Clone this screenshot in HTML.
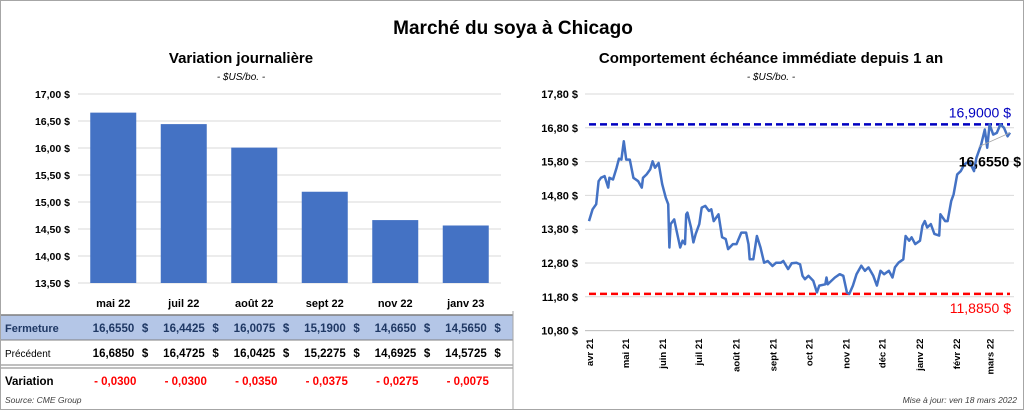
<!DOCTYPE html>
<html><head><meta charset="utf-8">
<style>
body{margin:0;background:#fff;}
#wrap{position:relative;width:1022px;height:408px;border:1px solid #a6a6a6;overflow:hidden;font-family:"Liberation Sans",sans-serif;}
svg text{font-family:"Liberation Sans",sans-serif;}
</style></head><body>
<div id="wrap">
<svg id="svg" width="1022" height="408">
<text x="512" y="33" text-anchor="middle" font-size="19" font-weight="bold" fill="#000">Marché du soya à Chicago</text>
<text x="240" y="62" text-anchor="middle" font-size="15" font-weight="bold">Variation journalière</text>
<text x="240" y="79" text-anchor="middle" font-size="10" font-style="italic">- $US/bo. -</text>
<text x="770" y="62" text-anchor="middle" font-size="15" font-weight="bold">Comportement échéance immédiate depuis 1 an</text>
<text x="770" y="79" text-anchor="middle" font-size="10" font-style="italic">- $US/bo. -</text>
<g id="left"></g><g id="right"></g><g id="table"></g>
<text x="4" y="402" font-size="8.5" font-style="italic" fill="#404040">Source: CME Group</text>
<text x="1016" y="402" text-anchor="end" font-size="8.5" font-style="italic" fill="#404040">Mise à jour: ven 18 mars 2022</text>
</svg></div>
<script>
const categories=["mai 22","juil 22","août 22","sept 22","nov 22","janv 23"];
const closeVals=[16.6550,16.4425,16.0075,15.1900,14.6650,14.5650];
const prevVals=[16.6850,16.4725,16.0425,15.2275,14.6925,14.5725];
const varVals=["- 0,0300","- 0,0300","- 0,0350","- 0,0375","- 0,0275","- 0,0075"];
const leftTicks=[17.0,16.5,16.0,15.5,15.0,14.5,14.0,13.5];
const days=[0,3,6,8,10,13,16,17,20,23,25,27,29,31,34,37,41,44,45,48,51,53,55,58,61,64,66,67,68,71,73,76,78,80,81,82,85,87,89,92,94,97,100,102,104,108,111,114,116,120,123,127,131,133,134,137,140,143,146,149,153,156,160,162,166,169,173,176,178,180,183,187,190,192,197,198,199,202,205,209,212,215,217,220,223,227,230,233,237,240,243,246,250,253,255,258,262,264,267,269,272,276,278,280,282,285,288,292,293,297,299,302,304,307,310,313,317,321,323,327,330,332,334,337,340,343,346,349,351];
const prices=[14.04,14.39,14.54,15.22,15.32,15.37,15.03,15.32,15.27,15.62,15.89,15.86,16.40,15.86,15.86,15.32,15.22,15.03,15.32,15.42,15.57,15.81,15.62,15.76,15.13,14.73,14.54,13.26,13.95,14.09,13.75,13.26,13.46,13.36,14.24,14.29,13.85,13.41,13.66,13.95,14.44,14.49,14.34,14.39,14.04,14.24,13.56,13.51,13.21,13.36,13.36,13.70,13.70,13.36,12.91,12.91,13.60,13.26,12.81,12.86,12.71,12.81,12.81,12.86,12.62,12.79,12.81,12.76,12.42,12.32,12.42,12.27,11.93,12.13,12.17,12.37,12.17,12.27,12.37,12.47,12.42,11.93,11.885,12.13,12.47,12.72,12.57,12.67,12.42,12.13,12.57,12.47,12.57,12.37,12.67,12.81,12.91,13.60,13.46,13.56,13.36,13.46,13.90,14.04,13.85,13.95,13.66,13.61,14.24,14.04,14.04,14.63,14.83,15.42,15.52,15.72,15.81,15.52,15.91,16.31,16.75,16.21,16.90,16.60,16.65,16.90,16.80,16.55,16.655];
const rightTicks=[17.8,16.8,15.8,14.8,13.8,12.8,11.8,10.8];
const monthLabels=["avr 21","mai 21","juin 21","juil 21","août 21","sept 21","oct 21","nov 21","déc 21","janv 22","févr 22","mars 22"];
const monthDays=[0,30,61,91,122,153,183,214,244,275,306,334];
const highVal=16.90, lowVal=11.885, lastVal=16.655;

const NS="http://www.w3.org/2000/svg";
function mk(p,tag,attrs,txt){const e=document.createElementNS(NS,tag);for(const k in attrs)e.setAttribute(k,attrs[k]);if(txt!==undefined)e.textContent=txt;p.appendChild(e);return e;}
const fmt=(v,d)=>v.toFixed(d).replace('.',',');

const L=document.getElementById('left');
const ly=v=>93+(17-v)*54, lx0=77, lx1=500, band=(lx1-lx0)/6;
leftTicks.forEach(t=>{
 const g=mk(L,'line',{x1:lx0,x2:lx1,y1:ly(t),y2:ly(t),stroke:'#d9d9d9','stroke-width':1});
 
 
 const tx=mk(L,'text',{x:69,y:ly(t)+4,'text-anchor':'end','font-size':10.5,'font-weight':'bold'},fmt(t,2)+' $');
 
 
});
closeVals.forEach((v,i)=>{
 const cx=lx0+band*(i+0.5);
 const r=mk(L,'rect',{x:cx-23,y:ly(v),width:46,height:ly(13.5)-ly(v),fill:'#4472c4'});
 
 
});
const T=document.getElementById('table');
mk(T,'rect',{x:0,y:314,width:512,height:25,fill:'#b4c6e7'});
mk(T,'line',{x1:0,x2:512,y1:314,y2:314,stroke:'#7f7f7f','stroke-width':1.5});
mk(T,'line',{x1:0,x2:512,y1:339,y2:339,stroke:'#7f7f7f','stroke-width':1});
mk(T,'line',{x1:0,x2:512,y1:364,y2:364,stroke:'#7f7f7f','stroke-width':1});
mk(T,'line',{x1:0,x2:512,y1:367,y2:367,stroke:'#7f7f7f','stroke-width':1});
mk(T,'line',{x1:512,x2:512,y1:310,y2:408,stroke:'#a6a6a6','stroke-width':1});
const rl=mk(T,'text',{x:4,y:331,'font-size':11,'font-weight':'bold',fill:'#1f3864'},'Fermeture');

const rp=mk(T,'text',{x:4,y:356,'font-size':10,fill:'#000'},'Précédent');

const rv=mk(T,'text',{x:4,y:384,'font-size':11.5,'font-weight':'bold'},'Variation');

categories.forEach((c,i)=>{
 const cx=lx0+band*(i+0.5), rx=cx+35;
 const h=mk(T,'text',{x:cx,y:306,'text-anchor':'middle','font-size':11,'font-weight':'bold'},c);
 
 const a=mk(T,'text',{x:rx-14,y:331,'text-anchor':'end','font-size':11.5,'font-weight':'bold',fill:'#1f3864'},fmt(closeVals[i],4));
 
 mk(T,'text',{x:rx,y:331,'text-anchor':'end','font-size':11.5,'font-weight':'bold',fill:'#1f3864'},'$');
 const b=mk(T,'text',{x:rx-14,y:356,'text-anchor':'end','font-size':11.5,'font-weight':'bold'},fmt(prevVals[i],4));
 
 mk(T,'text',{x:rx,y:356,'text-anchor':'end','font-size':11.5,'font-weight':'bold'},'$');
 const d=mk(T,'text',{x:cx+2,y:384,'text-anchor':'middle','font-size':11.5,'font-weight':'bold',fill:'#ff0000'},varVals[i]);
 
});
const R=document.getElementById('right');
const rx0=588, rx1=1009, ry=v=>93+(17.8-v)*33.8, rxs=d=>rx0+d*(rx1-rx0)/351;
rightTicks.forEach(t=>{
 const g=mk(R,'line',{x1:rx0-4,x2:rx1+4,y1:ry(t),y2:ry(t),stroke:'#d9d9d9','stroke-width':1});
 
 const tx=mk(R,'text',{x:577,y:ry(t)+4,'text-anchor':'end','font-size':11,'font-weight':'bold'},fmt(t,2)+' $');
 
});
mk(R,'line',{x1:rx0-4,x2:rx1+4,y1:ry(10.8),y2:ry(10.8),stroke:'#bfbfbf'});
monthLabels.forEach((m,i)=>{
 const x=rxs(monthDays[i]);
 const tx=mk(R,'text',{transform:`translate(${x+4},${ry(10.8)+8}) rotate(-90)`,'text-anchor':'end','font-size':9.5,'font-weight':'bold'},m);
 
});
const hl=mk(R,'line',{x1:rx0,x2:rx1,y1:ry(highVal),y2:ry(highVal),stroke:'#0000c0','stroke-width':2.5,'stroke-dasharray':'7,4'});

const ll=mk(R,'line',{x1:rx0,x2:rx1,y1:ry(lowVal),y2:ry(lowVal),stroke:'#ff0000','stroke-width':2.5,'stroke-dasharray':'7,4'});

const ht=mk(R,'text',{x:1010,y:ry(highVal)-7,'text-anchor':'end','font-size':14,fill:'#0000c0'},fmt(highVal,4)+' $');

const lt=mk(R,'text',{x:1010,y:ry(lowVal)+19,'text-anchor':'end','font-size':14,fill:'#ff0000'},fmt(lowVal,4)+' $');

let d='';days.forEach((dd,i)=>{d+=(i?'L':'M')+rxs(dd).toFixed(1)+','+ry(prices[i]).toFixed(1);});
const pl=mk(R,'path',{d:d,fill:'none',stroke:'#4472c4','stroke-width':2.5,'stroke-linejoin':'round'});

mk(R,'line',{x1:rxs(351),y1:ry(lastVal),x2:rxs(325),y2:ry(lastVal)+14,stroke:'#a6a6a6','stroke-width':0.8});
const la=mk(R,'text',{x:1020,y:ry(lastVal)+34,'text-anchor':'end','font-size':14,'font-weight':'bold',fill:'#000'},fmt(lastVal,4)+' $');

</script>
</body></html>
